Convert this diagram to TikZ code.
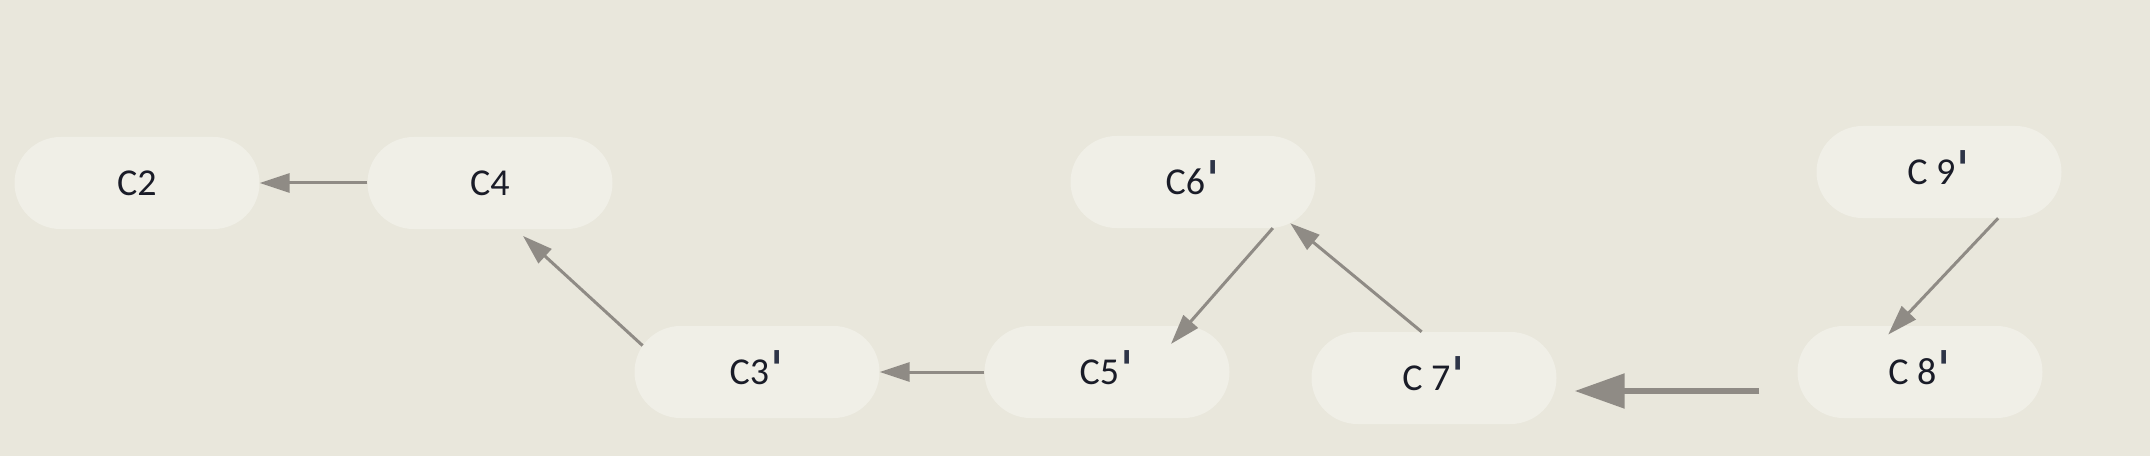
\documentclass[tikz,border=0pt]{standalone}
\usepackage{fontspec}
\setmainfont{Carlito}
\newfontfamily\primefont{DejaVu Sans Bold}
\usetikzlibrary{shapes.misc,arrows.meta}
\definecolor{bg}{RGB}{233,231,220}
\definecolor{nodefill}{RGB}{240,239,231}
\definecolor{edge}{RGB}{143,139,133}
\definecolor{txt}{RGB}{26,28,40}
\definecolor{primec}{RGB}{46,53,72}
\newcommand{\pr}{\smash{\raisebox{-4pt}{\color{primec}\fontsize{50}{50}\primefont\symbol{"02C8}}}}
\tikzset{
  cnode/.style={rounded rectangle, fill=nodefill, minimum width=245pt, minimum height=92pt,
    inner sep=0pt, font=\fontsize{38}{42}\selectfont, text=txt},
  link/.style={draw=edge, line width=3pt, -{Triangle[length=30pt,width=19pt]}},
  biglink/.style={draw=edge, line width=5.5pt, -{Triangle[length=50pt,width=34pt]}}
}
\begin{document}
\begin{tikzpicture}[x=1pt,y=1pt]
\fill[bg] (0,0) rectangle (2150,456);
\useasboundingbox (0,0) rectangle (2150,456);
\node[cnode] (C2) at (137,273) {C2};
\node[cnode] (C4) at (490,273) {C4};
\node[cnode] (C3) at (757,84) {C3\pr};
\node[cnode] (C5) at (1107,84) {C5\pr};
\node[cnode] (C6) at (1193,274) {C6\pr};
\node[cnode] (C7) at (1434,78) {C 7\pr};
\node[cnode] (C8) at (1920,84) {C 8\pr};
\node[cnode] (C9) at (1939,284) {C 9\pr};
\draw[link] (C4.west) -- (C2.east);
\draw[link, shorten >=10pt] (C3.167) -- (C4.-61);
\draw[link] (C5.west) -- (C3.east);
\draw[link, shorten >=-24pt] (C6.-30) -- (C5.30);
\draw[link] (C7.105) -- (C6.-23);
\draw[link, shorten >=-12pt] (C9.-38) -- (C8.117);
\draw[biglink] ([shift={(-38,-19)}]C8.west) -- ([shift={(18,-13)}]C7.east);
\end{tikzpicture}
\end{document}
